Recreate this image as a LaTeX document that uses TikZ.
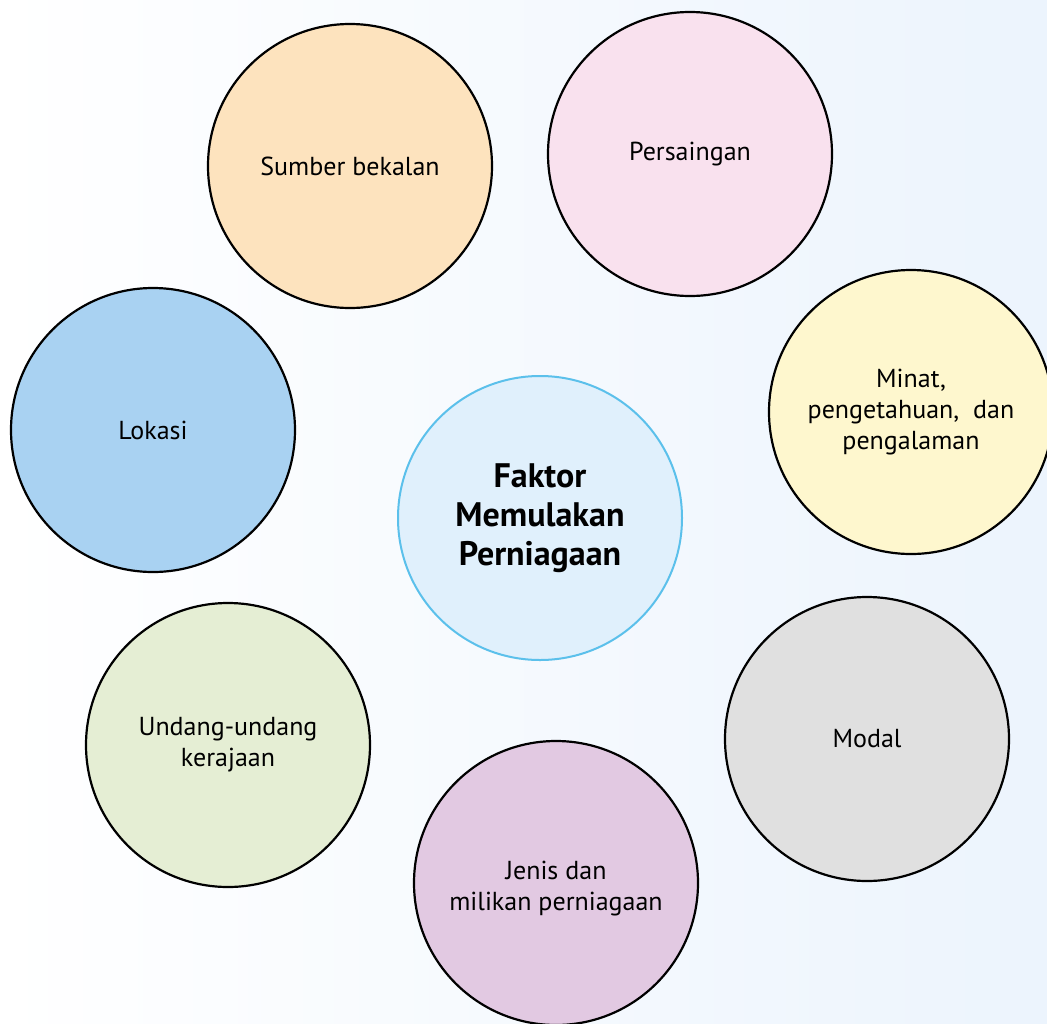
\documentclass[tikz,border=0pt]{standalone}
\usepackage{fontspec}
\setmainfont{PT Sans}
\begin{document}
\begin{tikzpicture}[x=1pt,y=-1pt,
  bubble/.style={circle,draw=black,line width=2.2pt,minimum size=284pt,inner sep=0pt,
    align=center,font=\fontsize{26}{31}\selectfont},
  caption/.style={align=center,font=\fontsize{26}{31}\selectfont},
  hub/.style={circle,draw=hubline,line width=2pt,fill=hubfill,minimum size=284pt,inner sep=0pt,
    align=center,font=\fontsize{34}{39}\selectfont\bfseries}]
\definecolor{bgright}{HTML}{ECF4FD}
\definecolor{hubline}{HTML}{5BC0EB}
\definecolor{hubfill}{HTML}{E0F0FC}
\definecolor{cOrange}{HTML}{FDE3BE}
\definecolor{cPink}{HTML}{F9E1EE}
\definecolor{cYellow}{HTML}{FEF7CE}
\definecolor{cBlue}{HTML}{A9D2F2}
\definecolor{cGreen}{HTML}{E5EED4}
\definecolor{cPurple}{HTML}{E2C9E2}
\definecolor{cGrey}{HTML}{E0E0E0}
% background wash
\shade[left color=white,right color=bgright] (0,0) rectangle (1047,1023);
\useasboundingbox (0,0) rectangle (1047,1023);
\begin{scope}
\clip (0,0) rectangle (1047,1023);
\node[hub] (hub) at (540,518) {Faktor\\Memulakan\\Perniagaan};
\node[bubble,fill=cOrange] (sumber) at (350,166) {Sumber bekalan};
\node[bubble,fill=cPink] (saing) at (690,154) {Persaingan};
\node[bubble,fill=cYellow] (minat) at (911,412) {Minat,\\pengetahuan,~ dan\\pengalaman};
\node[bubble,fill=cBlue] (lokasi) at (153,430) {Lokasi};
\node[bubble,fill=cGreen] (undang) at (228,745) {Undang-undang\\kerajaan};
\node[bubble,fill=cPurple] (jenis) at (556,883) {};
\node[caption] (jenistext) at (556,889) {Jenis dan\\milikan perniagaan};
\node[bubble,fill=cGrey] (modal) at (867,739) {Modal};
\end{scope}
\end{tikzpicture}
\end{document}
